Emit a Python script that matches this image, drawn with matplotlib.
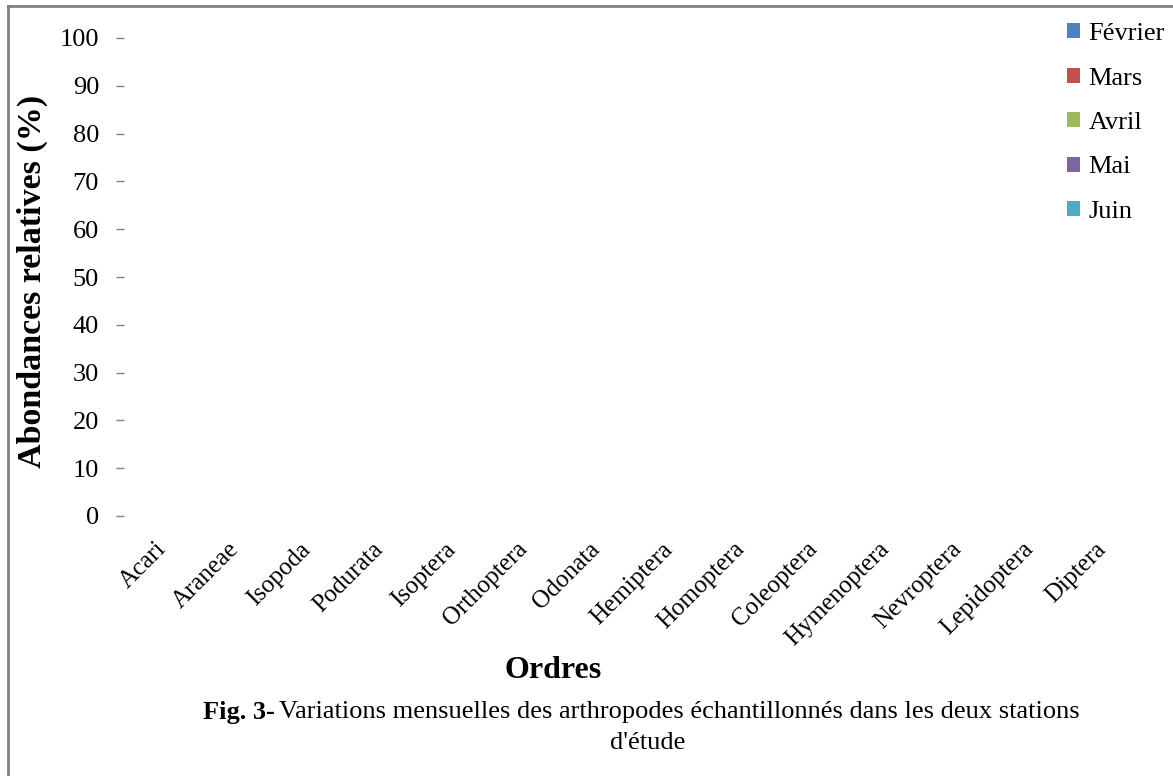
import numpy as np
import matplotlib.pyplot as plt
import matplotlib.transforms as mtransforms
from matplotlib.lines import Line2D
from matplotlib.patches import Patch

plt.rcParams['font.family'] = ['Liberation Serif', 'DejaVu Serif']

# Orders of arthropods (categories on the x axis)
ordres = ['Acari', 'Araneae', 'Isopoda', 'Podurata', 'Isoptera', 'Orthoptera',
          'Odonata', 'Hemiptera', 'Homoptera', 'Coleoptera', 'Hymenoptera',
          'Nevroptera', 'Lepidoptera', 'Diptera']

# Monthly series - the source chart shows no visible bars
fevrier = [0, 0, 0, 0, 0, 0, 0, 0, 0, 0, 0, 0, 0, 0]
mars = [0, 0, 0, 0, 0, 0, 0, 0, 0, 0, 0, 0, 0, 0]
avril = [0, 0, 0, 0, 0, 0, 0, 0, 0, 0, 0, 0, 0, 0]
mai = [0, 0, 0, 0, 0, 0, 0, 0, 0, 0, 0, 0, 0, 0]
juin = [0, 0, 0, 0, 0, 0, 0, 0, 0, 0, 0, 0, 0, 0]

mois = ['Février', 'Mars', 'Avril', 'Mai', 'Juin']
couleurs = ['#4F81BD', '#C0504D', '#9BBB59', '#8064A2', '#4BACC6']
yticks = [0, 10, 20, 30, 40, 50, 60, 70, 80, 90, 100]

W, H = 1173, 776
fig = plt.figure(figsize=(W / 100, H / 100), dpi=100)
ax = fig.add_axes([124 / W, 1 - 516 / H, (1136 - 124) / W, (516 - 38) / H])

x = np.arange(len(ordres))
width = 0.15
series = [fevrier, mars, avril, mai, juin]
for i, (vals, c) in enumerate(zip(series, couleurs)):
    ax.bar(x + (i - 2) * width, vals, width, color=c, linewidth=0)

ax.set_xlim(-0.5, len(ordres) - 0.5)
ax.set_ylim(0, 100)
ax.set_yticks(yticks)
ax.set_yticklabels([str(v) for v in yticks], fontsize=19)
ax.tick_params(axis='y', direction='out', length=6, width=1, color='#808080', pad=12)

ax.set_xticks(x)
ax.set_xticklabels(ordres, fontsize=18, rotation=45, ha='right', rotation_mode='anchor')
ax.tick_params(axis='x', length=0, pad=16)
shift = mtransforms.ScaledTranslation(-5 / 100, 0, fig.dpi_scale_trans)
for lbl in ax.get_xticklabels():
    lbl.set_transform(lbl.get_transform() + shift)

for s in ax.spines.values():
    s.set_visible(False)

ax.set_ylabel('Abondances relatives (%)', fontsize=24.5, fontweight='bold')
ax.yaxis.set_label_coords(-76 / 1012, 0.49)

# legend
handles = [Patch(facecolor=c, edgecolor='none') for c in couleurs]
fig.legend(handles, mois, loc='upper left', bbox_to_anchor=(1054 / W, 1 - 10 / H),
           frameon=False, fontsize=19, handlelength=0.5, handleheight=0.5,
           handletextpad=0.3, labelspacing=0.85, borderpad=0)

# axis title and caption
fig.text(553 / W, 1 - 670 / H, 'Ordres', fontsize=23, fontweight='bold',
         ha='center', va='center')
cap_y = 1 - 712 / H
t1 = fig.text(203 / W, cap_y, 'Fig. 3-', fontsize=19, fontweight='bold',
              ha='left', va='center')
fig.canvas.draw()
bb = t1.get_window_extent()
fig.text((bb.x1 + 4) / W, cap_y,
         'Variations mensuelles des arthropodes échantillonnés dans les deux stations',
         fontsize=19, ha='left', va='center')
fig.text(648 / W, 1 - 743 / H, "d'étude", fontsize=19, ha='center', va='center')

# frame around the figure (only top and left visible in the crop)
fig.add_artist(Line2D([8 / W, 8 / W], [0, 1 - 6 / H], color='#808080', linewidth=2,
                      transform=fig.transFigure))
fig.add_artist(Line2D([8 / W, 1], [1 - 6 / H, 1 - 6 / H], color='#808080', linewidth=2,
                      transform=fig.transFigure))

fig.savefig('out.png', dpi=100)
